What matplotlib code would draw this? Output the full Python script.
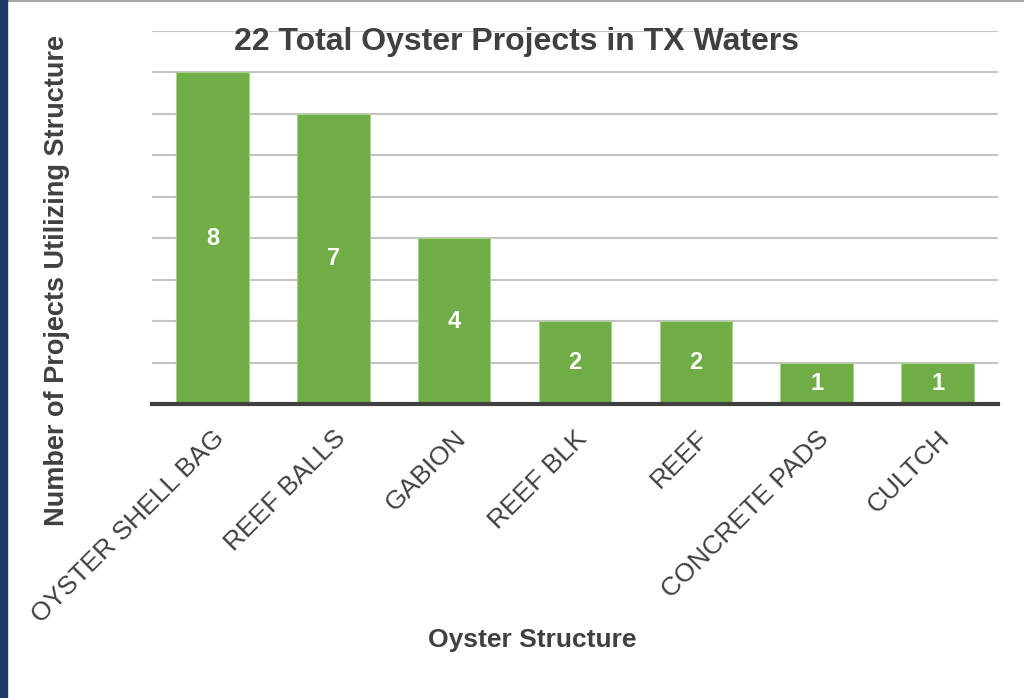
import matplotlib.pyplot as plt
from matplotlib.patches import Rectangle
from matplotlib.lines import Line2D

categories = ['OYSTER SHELL BAG', 'REEF BALLS', 'GABION', 'REEF BLK', 'REEF', 'CONCRETE PADS', 'CULTCH']
counts = [8, 7, 4, 2, 2, 1, 1]

plt.rcParams['font.family'] = ['Liberation Sans', 'DejaVu Sans']
text_col = '#404040'

fig = plt.figure(figsize=(10.24, 6.98), dpi=100)
ax = fig.add_axes([152/1024, 1 - 404/698, 846/1024, (404 - 31)/698])

x = range(len(categories))
bars = ax.bar(x, counts, width=0.6, color='#70AD47', edgecolor='#A9D18E', linewidth=0.8, zorder=3)
for b, v in zip(bars, counts):
    ax.text(b.get_x() + b.get_width()/2, v/2, str(v), ha='center', va='center',
            color='white', fontsize=17, fontweight='bold', zorder=4)

ax.set_xlim(-0.5, len(categories) - 0.5)
ax.set_ylim(0, 9)
ax.set_yticks(range(0, 10))
ax.yaxis.grid(True, color='#c4c4c4', linewidth=1.5, zorder=0)
ax.set_yticklabels([])
ax.tick_params(axis='y', length=0)
ax.tick_params(axis='x', length=0, pad=16)
for s in ['left', 'right', 'top']:
    ax.spines[s].set_visible(False)
ax.spines['bottom'].set_color(text_col)
ax.spines['bottom'].set_linewidth(3)
ax.spines['bottom'].set_zorder(5)

ax.set_xticks(list(x))
ax.set_xticklabels(categories, rotation=45, ha='right', rotation_mode='anchor',
                   fontsize=19, color=text_col)

fig.text(517/1024, 1 - 42/698, '22 Total Oyster Projects in TX Waters', ha='center', va='center',
         fontsize=23, fontweight='bold', color=text_col)
fig.text(57/1024, 1 - 280/698, 'Number of Projects Utilizing Structure', ha='center', va='center',
         rotation=90, fontsize=19.5, fontweight='bold', color=text_col)
fig.text(532/1024, 1 - 640/698, 'Oyster Structure', ha='center', va='center',
         fontsize=19, fontweight='bold', color=text_col)

# frame: navy strip on the left, thin grey line on top
fig.patches.append(Rectangle((0, 0), 7/1024, 1, transform=fig.transFigure, color='#1F3864', zorder=10))
fig.lines.append(Line2D([0, 1], [1 - 1/698, 1 - 1/698], transform=fig.transFigure, color='#a6a6a6', linewidth=1.5))

fig.savefig('out.png', dpi=100)
